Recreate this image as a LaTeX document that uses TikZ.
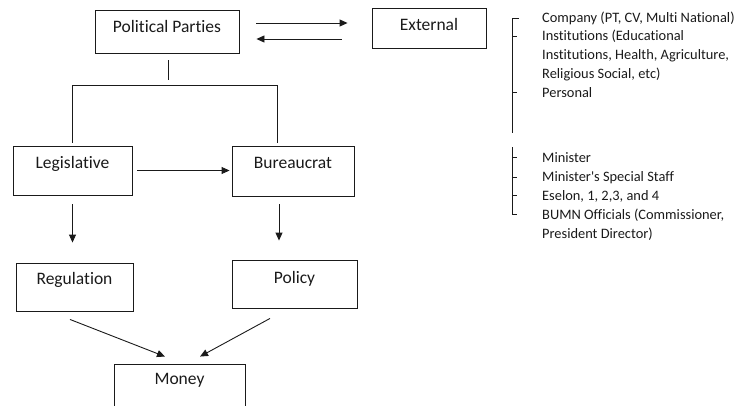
\documentclass[tikz,border=0pt]{standalone}
\usepackage{fontspec}
\setmainfont{Carlito}[Ligatures={TeX,NoCommon}]
\usetikzlibrary{arrows.meta}
\definecolor{ink}{HTML}{1A1A1A}
\tikzset{
  box/.style={draw=ink, line width=0.9pt, inner xsep=0pt, inner ysep=0pt, align=center,
    font=\fontsize{17.5}{20}\selectfont, text=ink},
  arr/.style={draw=ink, line width=0.9pt, -{Triangle[length=8pt,width=7pt]}},
  ln/.style={draw=ink, line width=0.9pt},
  brk/.style={draw=ink, line width=0.8pt},
  item/.style={anchor=base west, inner sep=0pt, font=\fontsize{14.4}{19}\selectfont, text=ink}
}
\begin{document}
\begin{tikzpicture}[x=1pt,y=-1pt]
\useasboundingbox (0,0) rectangle (740,405);
\clip (0,0) rectangle (740,405);
% boxes
\node[box, minimum width=144pt, text height=22pt, text depth=21pt] (pp) at (167,31.5) {Political Parties};
\node[box, minimum width=114pt, text height=22pt, text depth=18pt] (ext) at (429,28) {External};
\node[box, minimum width=119pt, text height=22pt, text depth=27pt] (leg) at (72.5,170.5) {Legislative};
\node[box, minimum width=122pt, text height=22pt, text depth=28pt] (bur) at (293,171) {Bureaucrat};
\node[box, minimum width=117pt, text height=21pt, text depth=27pt] (reg) at (74.5,287) {Regulation};
\node[box, minimum width=125pt, text height=23pt, text depth=25pt] (pol) at (294.5,284) {Policy};
\node[box, minimum width=131pt, text height=20pt, text depth=28pt] (money) at (179.5,388) {Money};
% connectors
\draw[arr, shorten <=17pt, shorten >=24pt] ([yshift=8.5pt]pp.east) -- ([yshift=5pt]ext.west);
\draw[arr, shorten <=30pt, shorten >=17pt] ([yshift=-11pt]ext.west) -- ([yshift=-7.5pt]pp.east);
\draw[ln] ([xshift=1pt,yshift=-7pt]pp.south) -- ([xshift=1pt,yshift=-27pt]pp.south);
\coordinate (jr) at (277,85);
\draw[ln] ([yshift=3pt]leg.north) |- (jr) -- ([yshift=3pt]jr |- bur.north);
\draw[arr, shorten <=5pt, shorten >=2pt] (leg.east) -- (leg.east -| bur.west);
\draw[arr, shorten <=9pt, shorten >=20pt] (leg.south) -- (leg.south |- reg.north);
\draw[arr, shorten <=8pt, shorten >=19pt] ([xshift=-14pt]bur.south) -- ([xshift=-14pt]bur.south |- pol.north);
\draw[arr] ([shift={(-4.5pt,-8pt)}]reg.south) -- ([shift={(-14.5pt,7pt)}]money.north);
\draw[arr] ([shift={(-24.5pt,-10pt)}]pol.south) -- ([shift={(20.5pt,7pt)}]money.north);
% brackets
\draw[brk] (519,18) -- (512,18) -- (512,133);
\draw[brk] (512,36) -- (517,36);
\draw[brk] (512,92) -- (517,92);
\draw[brk] (512,147) -- (512,214) -- (517,214);
\draw[brk] (512,157) -- (517,157);
\draw[brk] (512,177) -- (517,177);
\draw[brk] (512,195) -- (517,195);
% lists
\node[item] (t1) at (542,22) {Company (PT, CV, Multi National)};
\node[item] (t2) at (542,40.7) {Institutions (Educational};
\node[item] (t3) at (542,59.5) {Institutions, Health, Agriculture,};
\node[item] (t4) at (542,78.2) {Religious Social, etc)};
\node[item] (t5) at (542,97) {Personal};
\node[item] (b1) at (542,162) {Minister};
\node[item] (b2) at (542,181) {Minister\textquotesingle s Special Staff};
\node[item] (b3) at (542,200) {Eselon, 1, 2,3, and 4};
\node[item] (b4) at (542,219) {BUMN Officials (Commissioner,};
\node[item] (b5) at (542,238) {President Director)};
\end{tikzpicture}
\end{document}
